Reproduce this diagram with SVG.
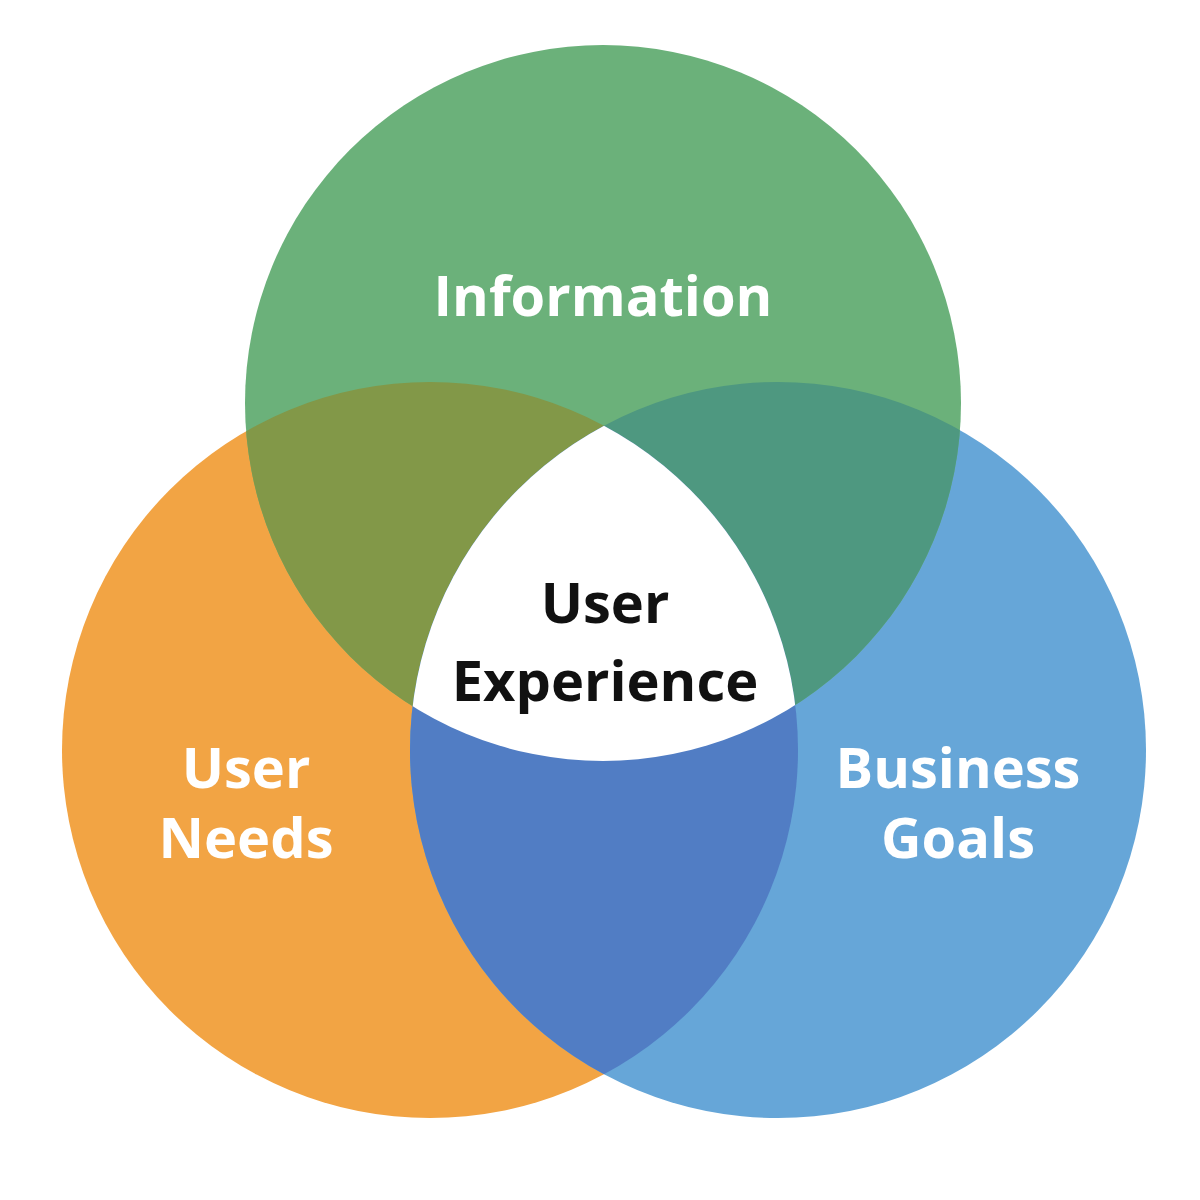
<svg xmlns="http://www.w3.org/2000/svg" width="1200" height="1200" viewBox="0 0 1200 1200">
<defs>
<style>
.t{font-family:"Open Sans","Liberation Sans",sans-serif;font-weight:700;font-size:56px;text-anchor:middle}
.w{fill:#fff}.k{fill:#111}
</style>
<clipPath id="cg"><circle cx="603" cy="403" r="358"/></clipPath>
<clipPath id="co"><circle cx="430" cy="750" r="368"/></clipPath>
<clipPath id="cb"><circle cx="778" cy="750" r="368"/></clipPath>
</defs>
<rect width="1200" height="1200" fill="#fff"/>
<g id="user-needs"><circle cx="430" cy="750" r="368" fill="#F2A444"/></g>
<g id="business-goals"><circle cx="778" cy="750" r="368" fill="#66A6D8"/></g>
<g id="information"><circle cx="603" cy="403" r="358" fill="#6BB17A"/></g>
<g id="overlaps">
<circle cx="430" cy="750" r="368" fill="#829848" clip-path="url(#cg)"/>
<circle cx="778" cy="750" r="368" fill="#4E9880" clip-path="url(#cg)"/>
<circle cx="430" cy="750" r="368" fill="#517DC4" clip-path="url(#cb)"/>
<g clip-path="url(#cg)"><circle cx="430" cy="750" r="368" fill="#fff" clip-path="url(#cb)"/></g>
</g>
<g id="labels">
<text class="t w" x="603" y="316">Information</text>
<text class="t w" x="246" y="788">User</text>
<text class="t w" x="246" y="858">Needs</text>
<text class="t w" x="958" y="788">Business</text>
<text class="t w" x="958" y="858">Goals</text>
<text class="t k" x="605" y="623">User</text>
<text class="t k" x="605" y="701">Experience</text>
</g>
</svg>
